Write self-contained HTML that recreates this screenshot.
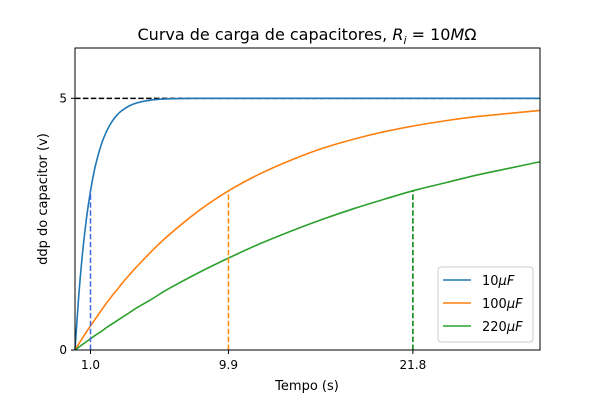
<!DOCTYPE html>
<html><head><meta charset="utf-8"><style>
body{margin:0;background:#fff;}
svg{font-family:"DejaVu Sans","Liberation Sans",sans-serif;}
</style></head><body>
<svg id="chart" width="600" height="400" viewBox="0 0 600 400">
<rect width="600" height="400" fill="#fff"/>
<text x="307" y="40" font-size="16" text-anchor="middle">Curva de carga de capacitores, <tspan font-style="italic">R</tspan><tspan font-style="italic" font-size="11" dy="4">i</tspan><tspan dy="-4"> = 10</tspan><tspan font-style="italic">M</tspan>Ω</text>
<g id="plot"></g>
<text x="307" y="390" font-size="13" text-anchor="middle">Tempo (s)</text>
<text transform="translate(47,199) rotate(-90)" font-size="13" text-anchor="middle">ddp do capacitor (v)</text>
</svg>
<script>
const times=[0,0.25,0.5,0.75,1,1.25,1.5,1.75,2,2.25,2.5,2.75,3,3.5,4,5,6,8,10,12,14,16,18,20,22,24,26,28,30];
const v10=[0,1.11,1.97,2.64,3.16,3.57,3.88,4.13,4.32,4.47,4.59,4.68,4.75,4.85,4.91,4.97,4.99,5,5,5,5,5,5,5,5,5,5,5,5];
const v100=[0,0.125,0.246,0.365,0.48,0.59,0.70,0.81,0.92,1.02,1.12,1.21,1.31,1.49,1.66,1.98,2.27,2.77,3.18,3.51,3.78,4.01,4.19,4.34,4.46,4.56,4.64,4.70,4.76];
const v220=[0,0.057,0.113,0.169,0.224,0.28,0.33,0.38,0.44,0.49,0.54,0.59,0.64,0.74,0.84,1.02,1.21,1.54,1.84,2.12,2.37,2.60,2.81,3.00,3.18,3.33,3.48,3.61,3.74];
const seriesNames=["10μF","100μF","220μF"];
const taus=[1.0,9.9,21.8];
const tauValues=[3.16,3.16,3.16];
const xTickLabels=["1.0","9.9","21.8"];
const yTicks=[0,5];
const asymptote=5;
const L=75,R=540,T=48,B=350,XMAX=30,YMAX=6;
const sx=t=>L+t/XMAX*(R-L), sy=v=>B-v/YMAX*(B-T);
const NS="http://www.w3.org/2000/svg", g=document.getElementById('plot');
function mk(tag,at){const e=document.createElementNS(NS,tag);for(const k in at)e.setAttribute(k,at[k]);g.appendChild(e);return e;}
function smooth(P){let d="M"+P[0][0]+","+P[0][1];
 for(let i=0;i<P.length-1;i++){const p0=P[Math.max(i-1,0)],p1=P[i],p2=P[i+1],p3=P[Math.min(i+2,P.length-1)];
  const c1=[p1[0]+(p2[0]-p0[0])/6,p1[1]+(p2[1]-p0[1])/6],c2=[p2[0]-(p3[0]-p1[0])/6,p2[1]-(p3[1]-p1[1])/6];
  d+=" C"+c1[0]+","+c1[1]+" "+c2[0]+","+c2[1]+" "+p2[0]+","+p2[1];}
 return d;}
const colors=["#1f77b4","#ff7f0e","#2ca02c"], dcol=["#4169e1","#ff8c00","#008000"];
let e=mk('line',{x1:sx(0),x2:sx(XMAX),y1:sy(asymptote),y2:sy(asymptote),stroke:"#000","stroke-width":1.5,"stroke-dasharray":"5.5,2.4"});


[v10,v100,v220].forEach((vals,i)=>{
 const P=times.map((t,j)=>[sx(t),sy(vals[j])]);
 const p=mk('path',{d:smooth(P),fill:"none",stroke:colors[i],"stroke-width":1.6});
 
 
});
taus.forEach((t,i)=>{
 const d=mk('line',{x1:sx(t),x2:sx(t),y1:sy(0),y2:sy(tauValues[i]),stroke:dcol[i],"stroke-width":1.5,"stroke-dasharray":"5.5,2.4"});
 
 
 const tk=mk('line',{x1:sx(t),x2:sx(t),y1:B,y2:B+4,stroke:"#000"});
 
 
 const tx=mk('text',{x:sx(t),y:B+19,"font-size":12,"text-anchor":"middle"});tx.textContent=xTickLabels[i];
 
 
});
yTicks.forEach(v=>{
 const tk=mk('line',{x1:L-4,x2:L,y1:sy(v),y2:sy(v),stroke:"#000"});
 
 
 const tx=mk('text',{x:L-8,y:sy(v)+4,"font-size":12,"text-anchor":"end"});tx.textContent=v;
 
 
});
const fr=mk('rect',{x:L,y:T,width:R-L,height:B-T,fill:"none",stroke:"#000","stroke-width":1});


const lg=mk('rect',{x:438,y:267,width:95,height:75,rx:3,fill:"#fff","fill-opacity":0.8,stroke:"#ccc"});


seriesNames.forEach((n,i)=>{
 const y=280+i*23;
 const ln=mk('line',{x1:443,x2:471,y1:y,y2:y,stroke:colors[i],"stroke-width":1.6});
 
 
 const tx=mk('text',{x:482,y:y+5,"font-size":13});
 tx.innerHTML=n.replace("μF","<tspan font-style='italic'>μF</tspan>");
 
 
});
</script>
</body></html>
